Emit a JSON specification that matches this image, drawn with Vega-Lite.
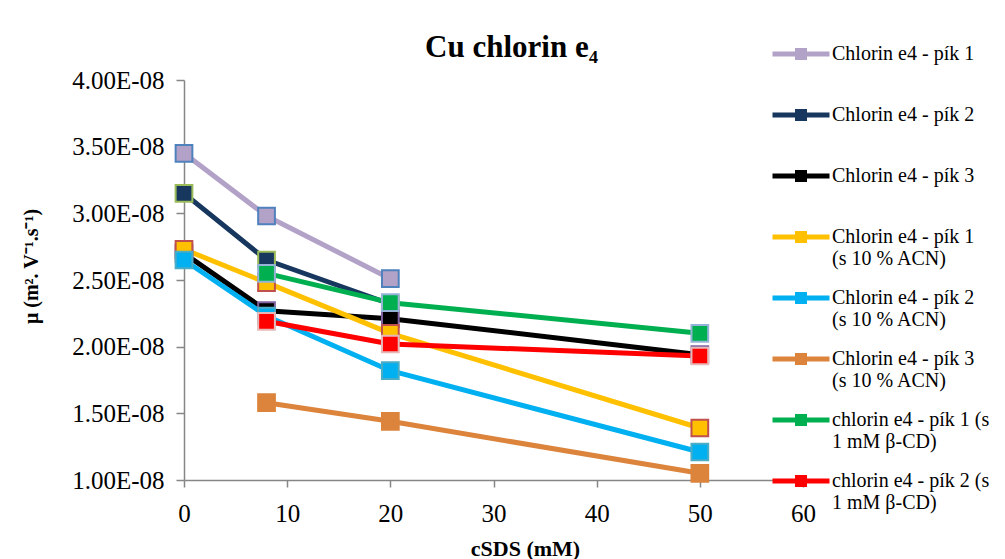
{
  "$schema": "https://vega.github.io/schema/vega-lite/v6.json",
  "width": 619,
  "height": 400,
  "autosize": {"type": "none"},
  "padding": {"left": 184, "top": 80, "right": 202, "bottom": 79},
  "background": "white",
  "title": {
    "text": "Cu chlorin e₄",
    "font": "Liberation Serif",
    "fontSize": 31,
    "fontWeight": "bold",
    "color": "black",
    "anchor": "middle",
    "frame": "group",
    "baseline": "alphabetic",
    "offset": 13,
    "dx": 18,
    "dy": 67
  },
  "config": {
    "view": {"stroke": null},
    "axis": {
      "labelFont": "Liberation Serif",
      "labelFontSize": 25,
      "labelColor": "black",
      "titleFont": "Liberation Serif",
      "titleColor": "black",
      "titleFontWeight": "bold",
      "domainColor": "#868686",
      "domainWidth": 1.5,
      "tickColor": "#868686",
      "tickWidth": 1.5,
      "tickSize": 8,
      "grid": false
    }
  },
  "data": {
    "values": [
      {"series": "Chlorin e4 - pík 1", "c": 0, "mu": 3.45e-8},
      {"series": "Chlorin e4 - pík 1", "c": 8, "mu": 2.98e-8},
      {"series": "Chlorin e4 - pík 1", "c": 20, "mu": 2.51e-8},
      {"series": "Chlorin e4 - pík 2", "c": 0, "mu": 3.15e-8},
      {"series": "Chlorin e4 - pík 2", "c": 8, "mu": 2.65e-8},
      {"series": "Chlorin e4 - pík 2", "c": 20, "mu": 2.32e-8},
      {"series": "Chlorin e4 - pík 3", "c": 0, "mu": 2.70e-8},
      {"series": "Chlorin e4 - pík 3", "c": 8, "mu": 2.27e-8},
      {"series": "Chlorin e4 - pík 3", "c": 20, "mu": 2.21e-8},
      {"series": "Chlorin e4 - pík 3", "c": 50, "mu": 1.94e-8},
      {"series": "Chlorin e4 - pík 1 (s 10 % ACN)", "c": 0, "mu": 2.73e-8},
      {"series": "Chlorin e4 - pík 1 (s 10 % ACN)", "c": 8, "mu": 2.48e-8},
      {"series": "Chlorin e4 - pík 1 (s 10 % ACN)", "c": 20, "mu": 2.10e-8},
      {"series": "Chlorin e4 - pík 1 (s 10 % ACN)", "c": 50, "mu": 1.39e-8},
      {"series": "Chlorin e4 - pík 2 (s 10 % ACN)", "c": 0, "mu": 2.65e-8},
      {"series": "Chlorin e4 - pík 2 (s 10 % ACN)", "c": 8, "mu": 2.23e-8},
      {"series": "Chlorin e4 - pík 2 (s 10 % ACN)", "c": 20, "mu": 1.82e-8},
      {"series": "Chlorin e4 - pík 2 (s 10 % ACN)", "c": 50, "mu": 1.21e-8},
      {"series": "Chlorin e4 - pík 3 (s 10 % ACN)", "c": 8, "mu": 1.58e-8},
      {"series": "Chlorin e4 - pík 3 (s 10 % ACN)", "c": 20, "mu": 1.44e-8},
      {"series": "Chlorin e4 - pík 3 (s 10 % ACN)", "c": 50, "mu": 1.05e-8},
      {"series": "chlorin e4 - pík 1 (s 1 mM β-CD)", "c": 8, "mu": 2.55e-8},
      {"series": "chlorin e4 - pík 1 (s 1 mM β-CD)", "c": 20, "mu": 2.33e-8},
      {"series": "chlorin e4 - pík 1 (s 1 mM β-CD)", "c": 50, "mu": 2.10e-8},
      {"series": "chlorin e4 - pík 2 (s 1 mM β-CD)", "c": 8, "mu": 2.19e-8},
      {"series": "chlorin e4 - pík 2 (s 1 mM β-CD)", "c": 20, "mu": 2.02e-8},
      {"series": "chlorin e4 - pík 2 (s 1 mM β-CD)", "c": 50, "mu": 1.93e-8}
    ]
  },
  "encoding": {
    "x": {
      "field": "c",
      "type": "quantitative",
      "scale": {"domain": [0, 60], "nice": false, "zero": false},
      "axis": {
        "values": [0, 10, 20, 30, 40, 50, 60],
        "title": "cSDS (mM)",
        "titleFontSize": 22,
        "titleX": 341,
        "titleY": 75,
        "titleBaseline": "alphabetic",
        "titleAnchor": "middle",
        "labelPadding": 14,
        "labelFlush": false,
        "tickSize": 7
      }
    },
    "y": {
      "field": "mu",
      "type": "quantitative",
      "scale": {"domain": [1e-8, 4e-8], "nice": false, "zero": false},
      "axis": {
        "values": [1e-8, 1.5e-8, 2e-8, 2.5e-8, 3e-8, 3.5e-8, 4e-8],
        "labelExpr": "format(datum.value*1e8, '.2f') + 'E-08'",
        "title": "μ (m². V⁻¹.s⁻¹)",
        "titleFontSize": 20,
        "titleX": -153,
        "titleY": 186,
        "titleAngle": 270,
        "titleBaseline": "middle",
        "titleAnchor": "middle",
        "labelPadding": 12,
        "labelFlush": false
      }
    },
    "color": {
      "field": "series",
      "type": "nominal",
      "scale": {
        "domain": [
          "Chlorin e4 - pík 1",
          "Chlorin e4 - pík 2",
          "Chlorin e4 - pík 3",
          "Chlorin e4 - pík 1 (s 10 % ACN)",
          "Chlorin e4 - pík 2 (s 10 % ACN)",
          "Chlorin e4 - pík 3 (s 10 % ACN)",
          "chlorin e4 - pík 1 (s 1 mM β-CD)",
          "chlorin e4 - pík 2 (s 1 mM β-CD)"
        ],
        "range": ["#B3A2C7", "#17375E", "#000000", "#FFC000", "#00B0F0", "#DC843C", "#00B050", "#FF0000"]
      },
      "legend": {
        "orient": "none",
        "legendX": 597,
        "legendY": -46,
        "title": null,
        "symbolType": "M-1.425,-0.125H1.425V0.125H-1.425Z M-0.3,-0.3H0.3V0.3H-0.3Z",
        "symbolSize": 1600,
        "symbolStrokeWidth": 0,
        "labelFont": "Liberation Serif",
        "labelFontSize": 20,
        "labelColor": "black",
        "labelLimit": 400,
        "labelOffset": 11,
        "gridAlign": "all",
        "rowPadding": 9,
        "labelExpr": "indexof(datum.label,'ACN')>0 ? [slice(datum.label,0,18), slice(datum.label,19)] : indexof(datum.label,'CD')>0 ? [slice(datum.label,0,21), slice(datum.label,22)] : datum.label"
      }
    }
  },
  "layer": [
    {
      "mark": {"type": "line", "strokeWidth": 5, "strokeJoin": "round", "strokeCap": "round"}
    },
    {
      "mark": {"type": "point", "shape": "square", "filled": true, "size": 280, "strokeWidth": 2, "opacity": 1},
      "encoding": {
        "stroke": {
          "field": "series",
          "type": "nominal",
          "scale": {
            "domain": [
              "Chlorin e4 - pík 1",
              "Chlorin e4 - pík 2",
              "Chlorin e4 - pík 3",
              "Chlorin e4 - pík 1 (s 10 % ACN)",
              "Chlorin e4 - pík 2 (s 10 % ACN)",
              "Chlorin e4 - pík 3 (s 10 % ACN)",
              "chlorin e4 - pík 1 (s 1 mM β-CD)",
              "chlorin e4 - pík 2 (s 1 mM β-CD)"
            ],
            "range": ["#4F81BD", "#9BBB59", "#8064A2", "#C0504D", "#4BACC6", "#DC843C", "#95B3D7", "#E6B9B8"]
          },
          "legend": null
        }
      }
    }
  ]
}
